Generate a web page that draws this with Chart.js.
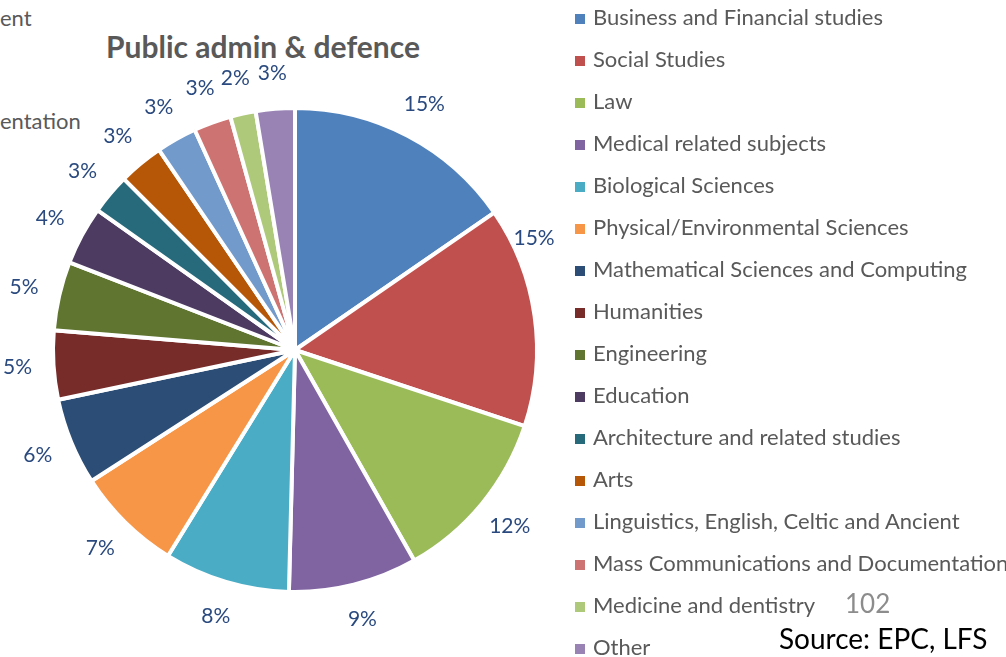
<!DOCTYPE html>
<html>
<head>
<meta charset="utf-8">
<script src="https://cdn.jsdelivr.net/npm/chart.js@4.4.0/dist/chart.umd.min.js"></script>
<style>
  html, body { margin: 0; padding: 0; background: #fff; }
  body { width: 1006px; height: 657px; position: relative; overflow: hidden; font-family: Lato, "Open Sans", sans-serif; }
  #wrap { position: absolute; left: 0; top: 0; width: 600px; height: 657px; }
  .txt { position: absolute; white-space: nowrap; }
  #title { left: 0; width: 526px; top: 28px; text-align: center; font-size: 30px; font-weight: bold; color: #595959; }
  .cut { left: 0; font-size: 22px; color: #595959; }
  #legend { position: absolute; left: 575px; top: 0; }
  .row { position: absolute; left: 0; height: 42px; line-height: 42px; font-size: 22px; color: #595959; white-space: nowrap; }
  .box { display: inline-block; width: 10px; height: 10px; margin-right: 8px; vertical-align: 1px; }
  #page { left: 845px; top: 587px; font-size: 26px; color: #8c8c8c; }
  #source { left: 779px; top: 621px; font-size: 28px; color: #000; }
</style>
</head>
<body>
<div class="txt cut" style="top:4px">ent</div>
<div class="txt cut" style="top:107px">entation</div>
<div id="title" class="txt">Public admin &amp; defence</div>
<div id="wrap"><canvas id="pie"></canvas></div>
<div id="legend"></div>
<div id="page" class="txt">102</div>
<div id="source" class="txt">Source: EPC, LFS</div>
<script>
// subject groups, in legend / slice order
const subjects = [
  'Business and Financial studies',
  'Social Studies',
  'Law',
  'Medical related subjects',
  'Biological Sciences',
  'Physical/Environmental Sciences',
  'Mathematical Sciences and Computing',
  'Humanities',
  'Engineering',
  'Education',
  'Architecture and related studies',
  'Arts',
  'Linguistics, English, Celtic and Ancient',
  'Mass Communications and Documentation',
  'Medicine and dentistry',
  'Other'
];

// share of public admin & defence workers (%)
const shares = [15.4, 14.7, 11.7, 8.6, 8.4, 7.1, 5.8, 4.6, 4.6, 3.9, 2.7, 3.0, 2.7, 2.5, 1.7, 2.6];

const sliceColors = [
  '#4F81BD', '#C0504D', '#9BBB59', '#8064A2', '#4BACC6', '#F79646',
  '#2C4D75', '#772C2A', '#5F7530', '#4D3B62', '#276A7C', '#B65708',
  '#729ACA', '#CD7371', '#AFC97A', '#9983B5'
];

// legend
const legendEl = document.getElementById('legend');
subjects.forEach((name, i) => {
  const row = document.createElement('div');
  row.className = 'row';
  row.style.top = (17 + 42 * i - 21) + 'px';
  row.innerHTML = `<span class="box" style="background:${sliceColors[i]}"></span>${name}`;
  legendEl.appendChild(row);
});

// percentage labels just outside each slice
const outsideLabels = {
  id: 'outsideLabels',
  afterDatasetsDraw(chart, args, opts) {
    const ctx = chart.ctx;
    const meta = chart.getDatasetMeta(0);
    const total = shares.reduce((a, b) => a + b, 0);
    ctx.save();
    ctx.font = '21px Lato, "Open Sans", sans-serif';
    ctx.fillStyle = '#2A4A7F';
    ctx.textAlign = 'center';
    ctx.textBaseline = 'middle';
    meta.data.forEach((arc, i) => {
      const p = arc.getProps(['x', 'y', 'startAngle', 'endAngle', 'outerRadius'], true);
      const nudge = (opts.nudge && opts.nudge[i]) || { angle: 0, dist: opts.dist };
      const mid = (p.startAngle + p.endAngle) / 2 + nudge.angle * Math.PI / 180;
      const r = p.outerRadius + nudge.dist;
      const pct = Math.round(shares[i] / total * 100);
      ctx.fillText(pct + '%', p.x + Math.cos(mid) * r, p.y + Math.sin(mid) * r);
    });
    ctx.restore();
  }
};

new Chart(document.getElementById('pie'), {
  type: 'pie',
  data: {
    labels: subjects,
    datasets: [{
      data: shares,
      backgroundColor: sliceColors,
      borderColor: '#ffffff',
      borderWidth: 4
    }]
  },
  options: {
    responsive: true,
    maintainAspectRatio: false,
    animation: false,
    layout: {
      padding: { left: 0, right: 10, top: 106, bottom: 63 }
    },
    plugins: {
      legend: { display: false },
      tooltip: { enabled: false },
      // the Social Studies label sits higher up, clear of the legend
      outsideLabels: { dist: 36, nudge: { 1: { angle: -17, dist: 22 } } }
    }
  },
  plugins: [outsideLabels]
});
</script>
</body>
</html>
